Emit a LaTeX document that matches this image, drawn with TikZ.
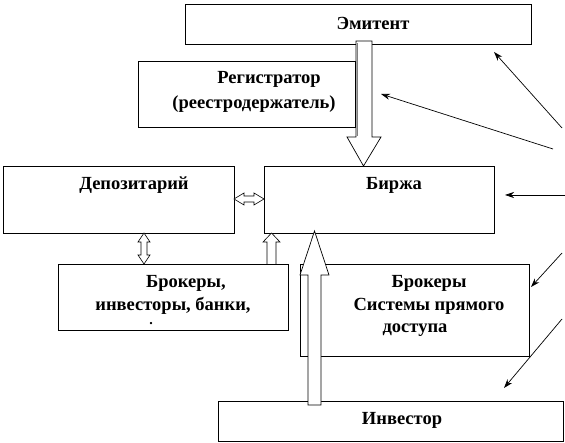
\documentclass[tikz,border=0pt]{standalone}
\usepackage{fontspec}
\setmainfont{Liberation Serif}
\usetikzlibrary{arrows.meta}
\begin{document}
\begin{tikzpicture}[x=1pt,y=-1pt,
  box/.style={draw,line width=0.8pt,fill=white,inner sep=0pt,anchor=north west},
  lbl/.style={font=\bfseries\fontsize{18.5}{20}\selectfont,inner sep=0pt},
  blk/.style={draw,line width=0.7pt,fill=white,line join=miter},
  thin/.style={line width=0.7pt,-{Stealth[length=9pt,width=6pt]}}]
\useasboundingbox (0,0) rectangle (565,443);
% boxes
\node[box,minimum width=346pt,minimum height=40pt] (emit) at (185,4) {};
\node[box,minimum width=217pt,minimum height=66pt] (reg) at (138,61) {};
\node[box,minimum width=231pt,minimum height=67pt] (dep) at (3,166) {};
\node[box,minimum width=230pt,minimum height=67pt] (birzha) at (264,166) {};
\node[box,minimum width=230pt,minimum height=66pt] (brok1) at (58,264) {};
\node[box,minimum width=229pt,minimum height=92pt] (brok2) at (300,264) {};
\node[box,minimum width=345pt,minimum height=40pt] (inv) at (218,401) {};
% texts
\node[lbl] (t1) at (373,23) {Эмитент};
\node[lbl] (t2) at (269,79) {Регистратор};
\node[lbl] (t3) at (254,104) {(реестродержатель)};
\node[lbl] (t4) at (134,185) {Депозитарий};
\node[lbl] (t5) at (394,185) {Биржа};
\node[lbl] (t6) at (186,283) {Брокеры,};
\node[lbl] (t7) at (173,306) {инвесторы, банки,};
\node[lbl,font=\bfseries\fontsize{14}{14}\selectfont,anchor=base] (t8) at (151,325) {.};
\node[lbl] (t9) at (429,283) {Брокеры};
\node[lbl] (t10) at (429,306) {Системы прямого};
\node[lbl] (t11) at (415,330) {доступа};
\node[lbl] (t12) at (402,420) {Инвестор};
% big down arrow Эмитент -> Биржа
\draw[blk] (356,41) -- (372,41) -- (372,137) -- (381,137) -- (363.5,166) -- (347,137) -- (356,137) -- cycle;
\draw[gray,line width=1pt] (357,43) -- (357,136);
% horizontal double arrow Депозитарий <-> Биржа
\draw[blk,line width=0.6pt] (234,199) -- (244,193) -- (244,196) -- (254,196) -- (254,193) -- (264,199) -- (254,205) -- (254,202) -- (244,202) -- (244,205) -- cycle;
% vertical double arrow Депозитарий <-> Брокеры
\draw[blk,line width=0.6pt] (144,233) -- (150,242) -- (147,242) -- (147,255) -- (150,255) -- (144,264) -- (138,255) -- (141,255) -- (141,242) -- (138,242) -- cycle;
% small up arrow Брокеры -> Биржа
\draw[blk,line width=0.6pt] (267,264) -- (267,242) -- (263,242) -- (271.5,233) -- (280,242) -- (276,242) -- (276,264);
% big up arrow Инвестор -> Биржа
\draw[blk] (308,405) -- (308,275) -- (300,275) -- (314.5,231) -- (329,275) -- (321,275) -- (321,405) -- cycle;
% thin arrows from the right
\coordinate (s1) at (562,128); \coordinate (e1) at (494,52);
\coordinate (s2) at (553,149); \coordinate (e2) at (381,94);
\coordinate (s3) at (565,195); \coordinate (e3) at (505,195);
\coordinate (s4) at (562,253); \coordinate (e4) at (531,287);
\coordinate (s5) at (562,319); \coordinate (e5) at (504,388);
\draw[thin] (s1) -- (e1);
\draw[thin] (s2) -- (e2);
\draw[thin] (s3) -- (e3);
\draw[thin] (s4) -- (e4);
\draw[thin] (s5) -- (e5);
\end{tikzpicture}
\end{document}
